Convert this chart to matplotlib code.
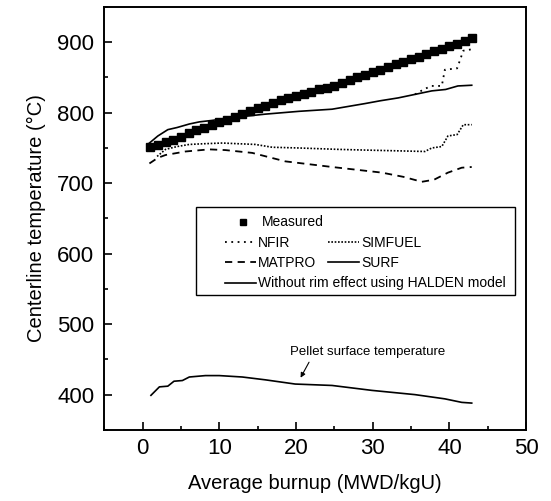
import matplotlib
matplotlib.use("Agg")
import matplotlib.pyplot as plt
from matplotlib.patches import Rectangle
from matplotlib.ticker import MultipleLocator

plt.rcParams['font.family'] = ['Liberation Sans', 'DejaVu Sans']

# measured centerline temperature
meas_x = list(range(1, 44))
meas_y = [751, 754, 758, 762, 766, 771, 775, 779, 783, 787, 790, 794, 798,
          802, 806, 810, 814, 818, 821, 824, 827, 830, 833, 835, 838, 842,
          846, 850, 854, 858, 861, 865, 869, 872, 876, 879, 883, 887, 891,
          894, 898, 902, 906]

# without rim effect (HALDEN model)
halden_x = [0.9, 2.0, 3.3, 4.5, 6.1, 7.4, 9.0, 11.0, 13.4, 16.0, 20.4, 24.7,
            29.0, 31.0, 33.3, 35.5, 37.7, 39.5, 41.1, 42.9]
halden_y = [757, 767, 776, 779, 784, 787, 789, 792, 795, 798, 802, 805,
            813, 817, 821, 826, 831, 833, 838, 839]

# NFIR, branches from the HALDEN curve near 36 MWD/kgU
nfir_x = [35.5, 36.8, 37.7, 39.0, 39.4, 41.0, 41.8, 42.9]
nfir_y = [826, 834, 838, 838, 861, 863, 888, 890]

# SIMFUEL
simfuel_x = [1.9, 3.0, 4.5, 6.1, 8.0, 10.4, 12.5, 14.7, 16.9, 20.3, 25.5,
             29.0, 33.0, 36.8, 37.7, 39.0, 39.8, 41.0, 41.8, 42.9]
simfuel_y = [738, 748, 752, 755, 756, 757, 756, 755, 751, 750, 748,
             747, 746, 745, 750, 752, 767, 769, 783, 783]

# MATPRO
matpro_x = [0.9, 2.0, 3.0, 5.6, 8.7, 10.8, 14.3, 18.6, 24.7, 31.2, 34.0,
            36.4, 38.0, 39.8, 41.6, 42.9]
matpro_y = [728, 736, 740, 745, 748, 747, 743, 731, 723, 715, 709,
            702, 705, 715, 722, 723]

# pellet surface temperature (SURF)
surf_x = [1.1, 2.2, 3.3, 4.1, 5.2, 6.1, 8.2, 10.0, 13.0, 16.0, 19.9, 24.7,
          29.9, 35.5, 39.4, 41.6, 42.9]
surf_y = [399, 411, 412, 419, 420, 425, 427, 427, 425, 421, 415, 413,
          406, 400, 394, 389, 388]

fig = plt.figure(figsize=(5.51, 5.01), dpi=100)
ax = fig.add_axes([0.189, 0.142, 0.766, 0.844])

h_meas, = ax.plot(meas_x, meas_y, 's', color='black', markersize=6,
                  label='Measured')
h_halden, = ax.plot(halden_x, halden_y, '-', color='black', lw=1.2,
                    label='Without rim effect using HALDEN model')
h_nfir, = ax.plot(nfir_x, nfir_y, color='black', lw=1.3,
                  linestyle=(0, (1, 2.5)), label='NFIR')
h_sim, = ax.plot(simfuel_x, simfuel_y, color='black', lw=1.2,
                 linestyle=(0, (1, 1)), label='SIMFUEL')
h_mat, = ax.plot(matpro_x, matpro_y, color='black', lw=1.3,
                 linestyle=(0, (4, 3)), label='MATPRO')
h_surf, = ax.plot(surf_x, surf_y, '-', color='black', lw=1.2, label='SURF')

ax.text(29.4, 460, 'Pellet surface temperature', ha='center', va='center',
        fontsize=9.5)
ax.annotate('', xy=(20.6, 424), xytext=(21.7, 446),
            arrowprops=dict(arrowstyle='-|>', color='black', lw=0.8,
                            mutation_scale=7, shrinkA=0, shrinkB=0))

ax.set_xlim(-5, 50)
ax.set_ylim(350, 950)
ax.xaxis.set_major_locator(MultipleLocator(10))
ax.xaxis.set_minor_locator(MultipleLocator(5))
ax.yaxis.set_major_locator(MultipleLocator(100))
ax.yaxis.set_minor_locator(MultipleLocator(50))
ax.tick_params(which='both', direction='in', top=False, right=False,
               width=1.2)
ax.tick_params(which='major', length=6, labelsize=16)
ax.tick_params(axis='y', which='major', pad=7)
ax.tick_params(axis='x', which='major', pad=6)
ax.tick_params(which='minor', length=3)
for s in ax.spines.values():
    s.set_linewidth(1.4)

ax.set_xlabel('Average burnup (MWD/kgU)', fontsize=14.5, labelpad=11)
ax.set_ylabel('Centerline temperature (°C)', fontsize=14.5, labelpad=8)

# legend box with separate blocks inside
ax.add_patch(Rectangle((0.218, 0.319), 0.756, 0.208, transform=ax.transAxes,
                       fill=False, edgecolor='black', lw=1.0, zorder=5))

common = dict(frameon=False, fontsize=10, borderpad=0, borderaxespad=0,
              loc='upper left', labelspacing=0.44)
leg1 = ax.legend(handles=[h_meas], bbox_to_anchor=(0.313, 0.507),
                 handlelength=1.0, handletextpad=0.85, markerscale=0.65,
                 **common)
ax.add_artist(leg1)
leg2 = ax.legend(handles=[h_nfir, h_mat, h_halden],
                 bbox_to_anchor=(0.287, 0.458), handlelength=2.2,
                 handletextpad=0.15, **common)
ax.add_artist(leg2)
ax.legend(handles=[h_sim, h_surf], bbox_to_anchor=(0.531, 0.458),
          handlelength=2.2, handletextpad=0.15, **common)

fig.savefig('out.png', dpi=100)
